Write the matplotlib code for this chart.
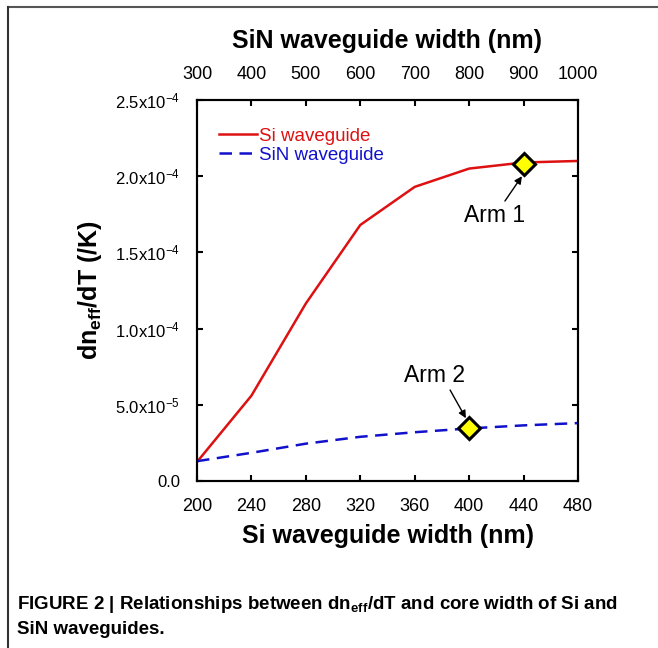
import matplotlib
matplotlib.use("Agg")
import matplotlib.pyplot as plt
from matplotlib.lines import Line2D

plt.rcParams['font.family'] = ['Liberation Sans', 'DejaVu Sans']
plt.rcParams['mathtext.fontset'] = 'custom'
plt.rcParams['mathtext.rm'] = 'Liberation Sans'
plt.rcParams['mathtext.bf'] = 'Liberation Sans:bold'
plt.rcParams['mathtext.it'] = 'Liberation Sans:italic'

# data
si_width = [200, 240, 280, 320, 360, 400, 440, 480]
si_dndt = [1.25e-5, 5.6e-5, 1.165e-4, 1.68e-4, 1.93e-4, 2.05e-4, 2.09e-4, 2.10e-4]

sin_width = [300, 400, 500, 600, 700, 800, 900, 1000]
sin_dndt = [1.3e-5, 1.85e-5, 2.45e-5, 2.9e-5, 3.2e-5, 3.45e-5, 3.65e-5, 3.8e-5]

arm1 = (440, 2.08e-4)   # on Si axis
arm2 = (800, 3.45e-5)   # on SiN axis

si_ticks = [200, 240, 280, 320, 360, 400, 440, 480]
sin_ticks = [300, 400, 500, 600, 700, 800, 900, 1000]
y_ticks = [0, 5e-5, 1e-4, 1.5e-4, 2e-4, 2.5e-4]
y_ticklabels = ['0.0', '5.0x10$^{-5}$', '1.0x10$^{-4}$', '1.5x10$^{-4}$',
                '2.0x10$^{-4}$', '2.5x10$^{-4}$']

fig = plt.figure(figsize=(6.58, 6.48), dpi=100)
ax = fig.add_axes([197 / 658, 1 - 481 / 648, 381 / 658, 381 / 648])
ax2 = ax.twiny()

ax.plot(si_width, si_dndt, color='#dd1111', lw=1.8, label='Si waveguide')
ax2.plot(sin_width, sin_dndt, color='#1111cc', lw=1.8, dashes=(5, 3),
         label='SiN waveguide')

ax.plot(*arm1, marker='D', ms=11, mfc='#ffff00', mec='black', mew=2.2, zorder=5)
ax2.plot(*arm2, marker='D', ms=11, mfc='#ffff00', mec='black', mew=2.2, zorder=5)

ax.set_xlim(200, 480)
ax2.set_xlim(300, 1000)
ax.set_ylim(0, 2.5e-4)

ax.set_xticks(si_ticks)
ax2.set_xticks(sin_ticks)
ax.set_yticks(y_ticks)
ax.set_yticklabels(y_ticklabels)

for a in (ax, ax2):
    for s in a.spines.values():
        s.set_linewidth(1.5)
ax.tick_params(axis='x', direction='in', length=4, width=1.5, labelsize=13, pad=12,
               top=False)
ax.tick_params(axis='y', direction='in', length=4, width=1.5, labelsize=12, pad=12,
               right=True)
ax2.tick_params(axis='x', direction='in', length=4, width=1.5, labelsize=13, pad=12)

ax.set_xlabel('Si waveguide width (nm)', fontsize=18, fontweight='bold', labelpad=7)
ax2.set_xlabel('SiN waveguide width (nm)', fontsize=18, fontweight='bold', labelpad=13)
ax.set_ylabel(r'dn$_{\mathbf{eff}}$/dT (/K)', fontsize=18, fontweight='bold',
              labelpad=8)

# legend
h1 = ax.get_lines()[0]
h2 = ax2.get_lines()[0]
ax.legend([h1, h2], ['Si waveguide', 'SiN waveguide'], loc='upper left',
          bbox_to_anchor=(0.058, 0.927), frameon=False, fontsize=13.5,
          handlelength=2.0, handletextpad=0.15, labelspacing=0.1,
          borderpad=0, borderaxespad=0, labelcolor='linecolor')

# arm annotations
ax.text(419, 1.745e-4, 'Arm 1', fontsize=16.5, ha='center', va='center')
ax.annotate('', xy=(438.8, 2.0e-4), xytext=(426.3, 1.837e-4),
            arrowprops=dict(arrowstyle='-|>', color='black', lw=1,
                            mutation_scale=11, shrinkA=0, shrinkB=0))
ax2.text(737, 6.94e-5, 'Arm 2', fontsize=16.5, ha='center', va='center')
ax2.annotate('', xy=(794, 4.12e-5), xytext=(765, 5.97e-5),
             arrowprops=dict(arrowstyle='-|>', color='black', lw=1,
                             mutation_scale=11, shrinkA=0, shrinkB=0))

# caption
fig.text(17 / 658, 1 - 609 / 648,
         r'FIGURE 2 | Relationships between dn$_{\mathbf{eff}}$/dT and core width of Si and',
         fontsize=13.5, fontweight='bold', va='baseline')
fig.text(17 / 658, 1 - 634 / 648, 'SiN waveguides.', fontsize=13.5,
         fontweight='bold', va='baseline')

# page frame
fig.add_artist(Line2D([8 / 658, 1], [1 - 7 / 648, 1 - 7 / 648],
                      transform=fig.transFigure, color='#555555', lw=1.5))
fig.add_artist(Line2D([8 / 658, 8 / 658], [0, 1 - 7 / 648],
                      transform=fig.transFigure, color='#333333', lw=1.5))

fig.savefig('out.png', dpi=100)
